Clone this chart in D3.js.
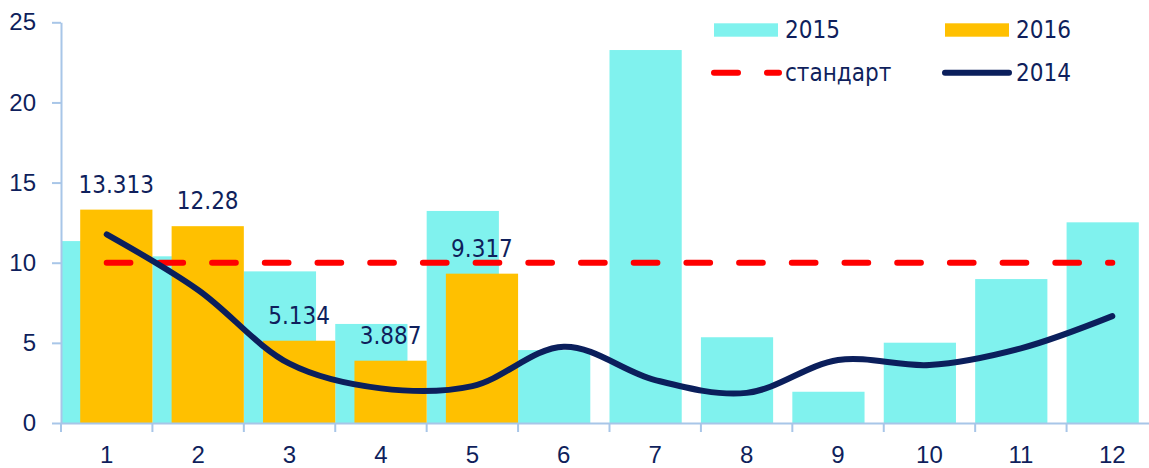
<!DOCTYPE html>
<html>
<head>
<meta charset="utf-8">
<script src="https://cdn.jsdelivr.net/npm/d3@7"></script>
<style>
body { margin: 0; background: #fff; }
svg { display: block; font-family: "DejaVu Sans Condensed", "DejaVu Sans", sans-serif; }
.axis path, .axis line { stroke: #a8c6e8; stroke-width: 2; }
.axis text { fill: #0f1f5c; font-size: 24px; }
</style>
</head>
<body>
<div id="chart"></div>
<script>
(function() {

var categories = ["1", "2", "3", "4", "5", "6", "7", "8", "9", "10", "11", "12"];
var values2015 = [11.35, 10.4, 9.46, 6.18, 13.23, 4.55, 23.27, 5.35, 1.95, 5.01, 8.98, 12.52];
var values2016 = [13.313, 12.28, 5.134, 3.887, 9.317, null, null, null, null, null, null, null];
var values2014 = [11.77, 8.3, 3.7, 2.16, 2.3, 4.76, 2.68, 1.88, 3.93, 3.62, 4.66, 6.67];
var standard = [10, 10, 10, 10, 10, 10, 10, 10, 10, 10, 10, 10];
var yTicks = [0, 5, 10, 15, 20, 25];
var seriesNames = ["2015", "2016", "стандарт", "2014"];

var cyan = "#80f2ee", orange = "#ffc000", red = "#ff0000", navy = "#0b1f5c", textCol = "#0f1f5c";

var width = 1149, height = 468;

var x = d3.scaleBand()
    .domain(categories)
    .range([61, 1158])
    .padding(0);

var y = d3.scaleLinear()
    .domain([0, 25])
    .range([423, 22.3]);

var barW = x.bandwidth() * 0.79,
    shift2016 = x.bandwidth() - barW;

var svg = d3.select("#chart").append("svg")
    .attr("width", width)
    .attr("height", height);

// bars 2015 (behind)
svg.selectAll(".bar2015")
    .data(values2015)
  .enter().append("rect")
    .attr("class", "bar2015")
    .attr("x", function(d, i) { return x(categories[i]); })
    .attr("y", function(d) { return y(d); })
    .attr("width", barW)
    .attr("height", function(d) { return y(0) - y(d); })
    .style("fill", cyan);

var data2016 = values2016.map(function(v, i) { return {c: categories[i], v: v}; })
    .filter(function(d) { return d.v != null; });

svg.selectAll(".bar2016")
    .data(data2016)
  .enter().append("rect")
    .attr("class", "bar2016")
    .attr("x", function(d) { return x(d.c) + shift2016; })
    .attr("y", function(d) { return y(d.v); })
    .attr("width", barW)
    .attr("height", function(d) { return y(0) - y(d.v); })
    .style("fill", orange);

// axes
svg.append("g")
    .attr("class", "axis")
    .attr("transform", "translate(61,0)")
    .call(d3.axisLeft(y).tickValues(yTicks).tickSize(9).tickSizeOuter(0).tickPadding(16));

var xAxis = svg.append("g")
    .attr("class", "axis")
    .attr("transform", "translate(0," + y(0) + ")")
    .call(d3.axisBottom(x).tickSize(0).tickSizeOuter(0).tickPadding(23));

xAxis.selectAll(".bound")
    .data(categories.concat([null]))
  .enter().append("line")
    .attr("class", "bound")
    .attr("x1", function(d) { return d == null ? x.range()[1] : x(d); })
    .attr("x2", function(d) { return d == null ? x.range()[1] : x(d); })
    .attr("y1", 0)
    .attr("y2", 9);

var cx = function(d, i) { return x(categories[i]) + x.bandwidth() / 2; };

// стандарт
svg.append("path")
    .datum(standard)
    .attr("d", d3.line().x(cx).y(function(d) { return y(d); }))
    .style("fill", "none")
    .style("stroke", red)
    .style("stroke-width", 6)
    .style("stroke-linecap", "round")
    .style("stroke-dasharray", "23.7,29");

// 2014 smooth line
svg.append("path")
    .datum(values2014)
    .attr("d", d3.line().x(cx).y(function(d) { return y(d); }).curve(d3.curveCatmullRom.alpha(0.5)))
    .style("fill", "none")
    .style("stroke", navy)
    .style("stroke-width", 6)
    .style("stroke-linecap", "round");

// data labels 2016
svg.selectAll(".lbl")
    .data(data2016)
  .enter().append("text")
    .attr("class", "lbl")
    .attr("x", function(d) { return x(d.c) + shift2016 + barW / 2; })
    .attr("y", function(d) { return y(d.v) - 17; })
    .attr("text-anchor", "middle")
    .style("font-size", "24px")
    .style("fill", textCol)
    .text(function(d) { return d.v; });

// legend
var legend = svg.append("g");

legend.append("rect").attr("x", 714).attr("y", 23.3).attr("width", 64).attr("height", 13.4).style("fill", cyan);
legend.append("rect").attr("x", 945).attr("y", 23.3).attr("width", 64).attr("height", 13.4).style("fill", orange);

legend.append("line")
    .attr("x1", 714).attr("x2", 779).attr("y1", 72.7).attr("y2", 72.7)
    .style("stroke", red).style("stroke-width", 6)
    .style("stroke-linecap", "round").style("stroke-dasharray", "24,29");

legend.append("line")
    .attr("x1", 945).attr("x2", 1009).attr("y1", 72.7).attr("y2", 72.7)
    .style("stroke", navy).style("stroke-width", 6)
    .style("stroke-linecap", "round");

var legendPos = [[785, 30], [1016, 30], [785, 73], [1016, 73]];
legend.selectAll("text")
    .data(seriesNames)
  .enter().append("text")
    .attr("x", function(d, i) { return legendPos[i][0]; })
    .attr("y", function(d, i) { return legendPos[i][1]; })
    .attr("dy", "0.35em")
    .style("font-size", "24px")
    .style("fill", textCol)
    .text(function(d) { return d; });

})();
</script>
</body>
</html>
